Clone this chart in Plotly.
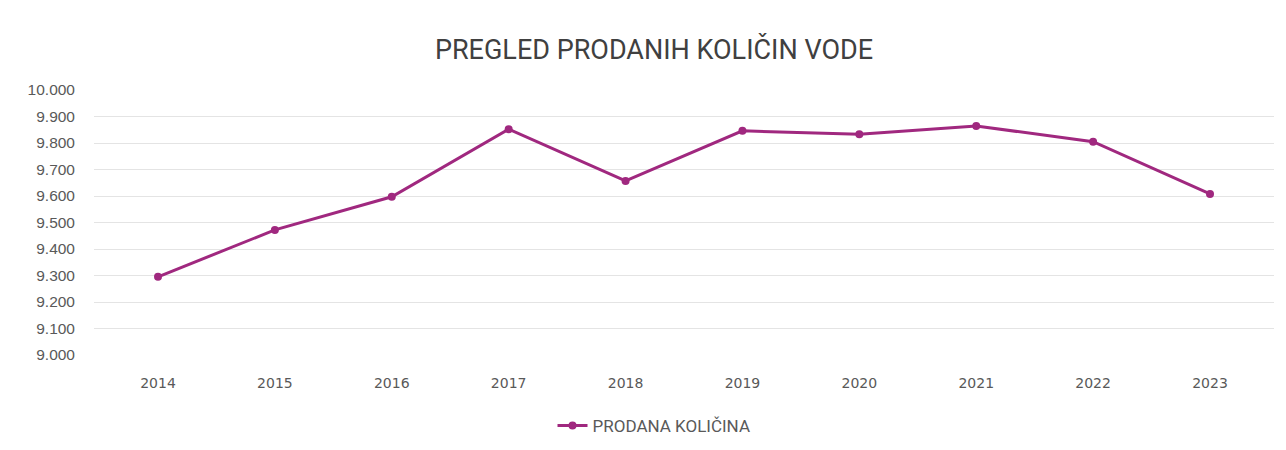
import plotly.graph_objects as go

years = ["2014", "2015", "2016", "2017", "2018", "2019", "2020", "2021", "2022", "2023"]
quantities = [9295, 9472, 9597, 9852, 9657, 9846, 9833, 9864, 9805, 9608]
series_name = "PRODANA KOLIČINA"
title_text = "PREGLED PRODANIH KOLIČIN VODE"
y_ticks = [9000, 9100, 9200, 9300, 9400, 9500, 9600, 9700, 9800, 9900, 10000]

color = "#a0287f"

fig = go.Figure()
fig.add_trace(go.Scatter(
    x=years, y=quantities, mode="lines+markers", name=series_name,
    line=dict(color=color, width=3),
    marker=dict(color=color, size=8),
))

fig.update_layout(
    width=1286, height=450,
    paper_bgcolor="white", plot_bgcolor="white",
    margin=dict(l=94, r=12, t=90, b=95),
    separators=",.",
    font=dict(family="Roboto, sans-serif", color="#595959", size=13),
    title=dict(text=title_text, x=654 / 1286, xref="container", xanchor="center",
               y=1 - 50 / 450, yref="container", yanchor="middle",
               font=dict(family="Roboto, sans-serif", size=27, color="#404040")),
    showlegend=True,
    legend=dict(orientation="h", x=654 / 1286, xref="container", xanchor="center",
                y=1 - 426 / 450, yref="container", yanchor="middle",
                font=dict(family="Roboto, sans-serif", size=17, color="#595959")),
)
fig.update_xaxes(type="category", showgrid=False, showline=False, ticks="",
                 ticklabelstandoff=18,
                 tickfont=dict(family="DejaVu Sans, sans-serif", size=14, color="#595959"))
fig.update_yaxes(range=[9000, 10000], tickvals=y_ticks, tickformat=",d",
                 showgrid=True, gridcolor="#e4e4e4", gridwidth=1, zeroline=False,
                 showline=False, ticks="", ticklabelstandoff=18,
                 tickfont=dict(family="Liberation Sans, Arial, sans-serif", size=15.5, color="#595959"))

fig.write_html("out.html")
